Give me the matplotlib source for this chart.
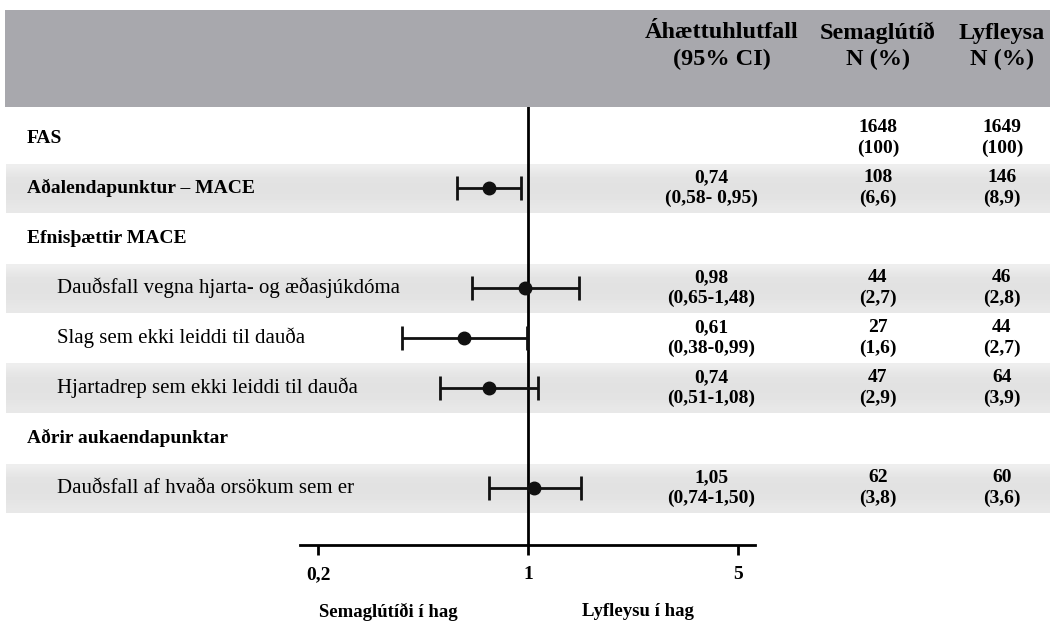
import matplotlib
matplotlib.use("Agg")
import numpy as np
import matplotlib.pyplot as plt
from matplotlib.patches import Rectangle

plt.rcParams['font.family'] = ['Liberation Serif', 'DejaVu Serif']

# Rows of the forest plot
labels = ["FAS",
          "Aðalendapunktur – MACE",
          "Efnisþættir MACE",
          "Dauðsfall vegna hjarta- og æðasjúkdóma",
          "Slag sem ekki leiddi til dauða",
          "Hjartadrep sem ekki leiddi til dauða",
          "Aðrir aukaendapunktar",
          "Dauðsfall af hvaða orsökum sem er"]
is_heading = [True, True, True, False, False, False, True, False]

# Hazard ratios with 95% CI
hr = [None, 0.74, None, 0.98, 0.61, 0.74, None, 1.05]
ci_low = [None, 0.58, None, 0.65, 0.38, 0.51, None, 0.74]
ci_high = [None, 0.95, None, 1.48, 0.99, 1.08, None, 1.50]
ci_sep = ["", "- ", "", "-", "-", "-", "", "-"]

# Events, N (%)
sema_n = [1648, 108, None, 44, 27, 47, None, 62]
sema_pct = [100, 6.6, None, 2.7, 1.6, 2.9, None, 3.8]
placebo_n = [1649, 146, None, 46, 44, 64, None, 60]
placebo_pct = [100, 8.9, None, 2.8, 2.7, 3.9, None, 3.6]

col_headers = [("Áhættuhlutfall", "(95% CI)"), ("Semaglútíð", "N (%)"), ("Lyfleysa", "N (%)")]
axis_ticks = [0.2, 1, 5]
axis_ticklabels = ["0,2", "1", "5"]
favours = ["Semaglútíði í hag", "Lyfleysu í hag"]


def fmt(v, digits=2):
    return f"{v:.{digits}f}".replace(".", ",")


def fmt_pct(v):
    return "(100)" if v == 100 else "(" + fmt(v, 1) + ")"


W, H = 1050, 626
ROW0, ROW_H = 138, 50       # pixel centre of first row, row pitch
AX_TOP, AX_BOT = 107, 545   # pixel extent of forest axes
AX_L, AX_R = 300, 755

fig = plt.figure(figsize=(W / 100, H / 100), dpi=100)

# background axes: x in pixels, y in row units
bg = fig.add_axes([0, 0, 1, 1])
bg.set_xlim(0, W)
bg.set_ylim((H - ROW0) / ROW_H, -ROW0 / ROW_H)
bg.axis("off")


def py(p):
    return (p - ROW0) / ROW_H


# header band
bg.add_patch(Rectangle((5, py(10)), W - 5, py(AX_TOP) - py(10),
                       facecolor="#a8a8ad", edgecolor="none"))

# alternating row shading with a soft vertical gradient
shade = np.array([0.93, 0.905, 0.89, 0.885, 0.885, 0.89, 0.90, 0.91]).reshape(-1, 1)
for i in range(len(labels)):
    if i % 2 == 1:
        bg.imshow(shade, cmap="gray", vmin=0, vmax=1, aspect="auto",
                  extent=(6, W, i + 0.5, i - 0.48), interpolation="bilinear", zorder=0)
bg.set_xlim(0, W)
bg.set_ylim((H - ROW0) / ROW_H, -ROW0 / ROW_H)

head_x = [722, 878, 1002]
for x, (l1, l2) in zip(head_x, col_headers):
    bg.text(x, py(33), l1, ha="center", va="center", fontsize=17.5, fontweight="bold")
    bg.text(x, py(59), l2, ha="center", va="center", fontsize=17.5, fontweight="bold")

col_x = [711, 878, 1002]
dfs = 14
for i, lab in enumerate(labels):
    if is_heading[i]:
        bg.text(27, i, lab, ha="left", va="center", fontsize=14, fontweight="bold")
    else:
        bg.text(57, i, lab, ha="left", va="center", fontsize=15)

    if hr[i] is not None:
        bg.text(col_x[0], i - 0.21, fmt(hr[i]), ha="center", va="center",
                fontsize=dfs, fontweight="bold")
        bg.text(col_x[0], i + 0.21, "(" + fmt(ci_low[i]) + ci_sep[i] + fmt(ci_high[i]) + ")",
                ha="center", va="center", fontsize=dfs, fontweight="bold")
    if sema_n[i] is not None:
        bg.text(col_x[1], i - 0.21, str(sema_n[i]), ha="center", va="center",
                fontsize=dfs, fontweight="bold")
        bg.text(col_x[1], i + 0.21, fmt_pct(sema_pct[i]), ha="center", va="center",
                fontsize=dfs, fontweight="bold")
        bg.text(col_x[2], i - 0.21, str(placebo_n[i]), ha="center", va="center",
                fontsize=dfs, fontweight="bold")
        bg.text(col_x[2], i + 0.21, fmt_pct(placebo_pct[i]), ha="center", va="center",
                fontsize=dfs, fontweight="bold")

bg.text(388, py(612), favours[0], ha="center", va="center", fontsize=13.5, fontweight="bold")
bg.text(638, py(612), favours[1], ha="center", va="center", fontsize=13.5, fontweight="bold")

# forest axes on a log scale
ax = fig.add_axes([AX_L / W, (H - AX_BOT) / H, (AX_R - AX_L) / W, (AX_BOT - AX_TOP) / H])
ax.patch.set_alpha(0)
ax.set_xscale("log")
px_per_dec = 300
ax.set_xlim(10 ** ((AX_L - 528) / px_per_dec), 10 ** ((AX_R - 528) / px_per_dec))
ax.set_ylim(py(AX_BOT), py(AX_TOP))

for s in ["top", "right", "left"]:
    ax.spines[s].set_visible(False)
ax.spines["bottom"].set_linewidth(2)
ax.axvline(1, color="black", linewidth=2, zorder=1)

for i in range(len(labels)):
    if hr[i] is None:
        continue
    ax.errorbar(hr[i], i, xerr=[[hr[i] - ci_low[i]], [ci_high[i] - hr[i]]],
                fmt="o", color="#111111", markersize=9, elinewidth=2,
                capsize=8.5, capthick=2, zorder=3)

ax.set_xticks(axis_ticks)
ax.set_xticklabels(axis_ticklabels, fontsize=14, fontweight="bold")
ax.xaxis.set_minor_locator(matplotlib.ticker.NullLocator())
ax.tick_params(axis="x", length=7, width=2, pad=8)
ax.set_yticks([])

fig.savefig("out.png", dpi=100)
